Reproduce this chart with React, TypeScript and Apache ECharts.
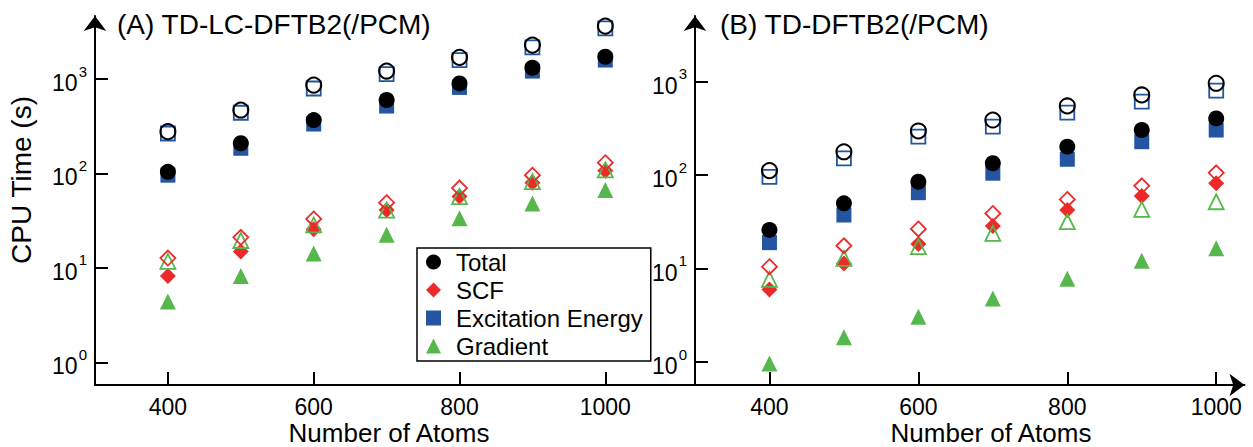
import React, { useEffect, useRef } from "react";
import * as echarts from "echarts";

const atoms = [400, 500, 600, 700, 800, 900, 1000];
const xTicks = [400, 600, 800, 1000];
const yTicks = [1, 10, 100, 1000];

// Panel A: TD-LC-DFTB2 (filled) and TD-LC-DFTB2/PCM (hollow)
const aTotal = [104, 209, 368, 600, 900, 1318, 1722];
const aTotalPCM = [277, 470, 864, 1216, 1700, 2290, 3640];
const aExc = [96, 185, 334, 518, 816, 1215, 1590];
const aExcPCM = [265, 440, 795, 1130, 1590, 2165, 3436];
const aSCF = [8.2, 14.9, 25.7, 41, 57, 80, 107];
const aSCFPCM = [12.7, 21.1, 33, 49, 70, 96, 130];
const aGrad = [4.4, 8.2, 14.2, 22.4, 33.6, 48, 67];
const aGradPCM = [11.7, 19.5, 28.5, 41, 57, 82, 109];

// Panel B: TD-DFTB2 (filled) and TD-DFTB2/PCM (hollow)
const bTotal = [26, 50, 85, 134, 202, 304, 405];
const bTotalPCM = [112, 178, 297, 389, 550, 721, 961];
const bExc = [19, 37.5, 65, 105, 148, 228, 304];
const bExcPCM = [96, 151, 258, 330, 466, 611, 801];
const bSCF = [6.0, 11.4, 18.4, 28.6, 42.5, 60, 82];
const bSCFPCM = [10.5, 17.6, 26.6, 39, 55, 77, 106];
const bGrad = [0.97, 1.85, 3.07, 4.8, 7.8, 12.2, 16.5];
const bGradPCM = [7.7, 12.9, 17.2, 23.9, 31.8, 43, 52];

const legendNames = ["Total", "SCF", "Excitation Energy", "Gradient"];

const BLACK = "#000000";
const RED = "#ec2a2a";
const BLUE = "#2355a3";
const GREEN = "#56b84c";
const FONT = "'Liberation Sans', Arial, Helvetica, sans-serif";

const pairs = (vals: number[]) => atoms.map((a, i) => [a, vals[i]]);

function filled(name: string, vals: number[], idx: number, symbol: string, size: number, color: string) {
  return {
    type: "scatter",
    name,
    xAxisIndex: idx,
    yAxisIndex: idx,
    data: pairs(vals),
    symbol,
    symbolSize: size,
    itemStyle: { color, opacity: 1 },
    emphasis: { disabled: true },
  };
}

function hollow(name: string, vals: number[], idx: number, symbol: string, size: number, color: string, bw: number) {
  return {
    type: "scatter",
    name,
    xAxisIndex: idx,
    yAxisIndex: idx,
    data: pairs(vals),
    symbol,
    symbolSize: size,
    itemStyle: { color: "rgba(255,255,255,0)", borderColor: color, borderWidth: bw, opacity: 1 },
    emphasis: { disabled: true },
  };
}

function panelSeries(idx: number, total: number[], totalP: number[], exc: number[], excP: number[], scf: number[], scfP: number[], grad: number[], gradP: number[]) {
  return [
    hollow("Excitation Energy (PCM)", excP, idx, "rect", 14, BLUE, 1.8),
    filled("Excitation Energy", exc, idx, "rect", 15, BLUE),
    hollow("Total (PCM)", totalP, idx, "circle", 15, BLACK, 2),
    filled("Total", total, idx, "circle", 16, BLACK),
    filled("SCF", scf, idx, "diamond", 16, RED),
    hollow("Gradient (PCM)", gradP, idx, "triangle", 15, GREEN, 1.8),
    hollow("SCF (PCM)", scfP, idx, "diamond", 15, RED, 1.8),
    filled("Gradient", grad, idx, "triangle", 16, GREEN),
  ];
}

const axisLineStyle = { color: BLACK, width: 2 };

function xAxis(idx: number, max: number, arrow: boolean) {
  return {
    type: "value",
    gridIndex: idx,
    min: 300,
    max,
    axisLine: {
      show: true,
      onZero: false,
      lineStyle: axisLineStyle,
      symbol: arrow ? ["none", "arrow"] : ["none", "none"],
      symbolSize: [17, 15],
    },
    axisTick: { show: true, inside: true, length: 13, customValues: xTicks, lineStyle: axisLineStyle },
    axisLabel: {
      show: true,
      customValues: xTicks,
      fontSize: 23,
      color: BLACK,
      fontFamily: FONT,
      margin: 10,
      formatter: (v: number) => String(v),
    },
    splitLine: { show: false },
  };
}

function yAxis(idx: number, min: number, max: number) {
  return {
    type: "log",
    logBase: 10,
    gridIndex: idx,
    min,
    max,
    axisLine: {
      show: true,
      onZero: false,
      lineStyle: axisLineStyle,
      symbol: ["none", "arrow"],
      symbolSize: [17, 15],
    },
    axisTick: { show: true, inside: true, length: 13, customValues: yTicks, lineStyle: axisLineStyle },
    axisLabel: {
      show: true,
      customValues: yTicks,
      margin: 8,
      color: BLACK,
      fontFamily: FONT,
      formatter: (v: number) => "{b|10}{s|" + Math.round(Math.log10(v)) + "}",
      rich: {
        b: { fontSize: 23, color: BLACK, fontFamily: FONT, padding: [8, 0, 0, 0] },
        s: { fontSize: 15, color: BLACK, fontFamily: FONT, verticalAlign: "top", padding: [0, 0, 0, 1] },
      },
    },
    splitLine: { show: false },
  };
}

function label(text: string, x: number, y: number, size: number, rotation = 0, align = "left") {
  return {
    type: "text",
    x,
    y,
    rotation,
    style: { text, font: size + "px " + FONT, fill: BLACK, verticalAlign: "middle", align },
  };
}

export default function App() {
  const ref = useRef<HTMLDivElement>(null);

  useEffect(() => {
    if (!ref.current) return;
    const chart = echarts.init(ref.current, null, { renderer: "svg" });
    const option = {
      animation: false,
      backgroundColor: "#ffffff",
      textStyle: { fontFamily: FONT, color: BLACK },
      grid: [
        { left: 95, right: 558, top: 16, bottom: 62, containLabel: false, outerBoundsMode: "none" },
        { left: 695, right: 8.5, top: 16, bottom: 62, containLabel: false, outerBoundsMode: "none" },
      ],
      xAxis: [xAxis(0, 1123, false), xAxis(1, 1038, true)],
      yAxis: [yAxis(0, 0.575, 4656), yAxis(1, 0.571, 5036)],
      legend: {
        data: legendNames,
        orient: "vertical",
        left: 417,
        top: 248,
        padding: [2, 8, 3, 9],
        itemGap: 4,
        itemWidth: 15,
        itemHeight: 15,
        symbolKeepAspect: true,
        borderColor: BLACK,
        borderWidth: 1.5,
        backgroundColor: "#ffffff",
        selectedMode: false,
        textStyle: { fontSize: 24, color: BLACK, fontFamily: FONT, padding: [0, 0, 0, 10] },
        z: 10,
      },
      graphic: [
        label("(A) TD-LC-DFTB2(/PCM)", 117, 24, 28),
        label("(B) TD-DFTB2(/PCM)", 720, 24, 28),
        label("CPU Time (s)", 21, 180, 28, Math.PI / 2, "center"),
        label("Number of Atoms", 389, 433, 26, 0, "center"),
        label("Number of Atoms", 991, 433, 26, 0, "center"),
      ],
      series: [
        ...panelSeries(0, aTotal, aTotalPCM, aExc, aExcPCM, aSCF, aSCFPCM, aGrad, aGradPCM),
        ...panelSeries(1, bTotal, bTotalPCM, bExc, bExcPCM, bSCF, bSCFPCM, bGrad, bGradPCM),
      ],
    };
    chart.setOption(option as any);
    return () => chart.dispose();
  }, []);

  return <div ref={ref} style={{ position: "fixed", left: 0, top: 0, width: 1253, height: 447 }} />;
}
